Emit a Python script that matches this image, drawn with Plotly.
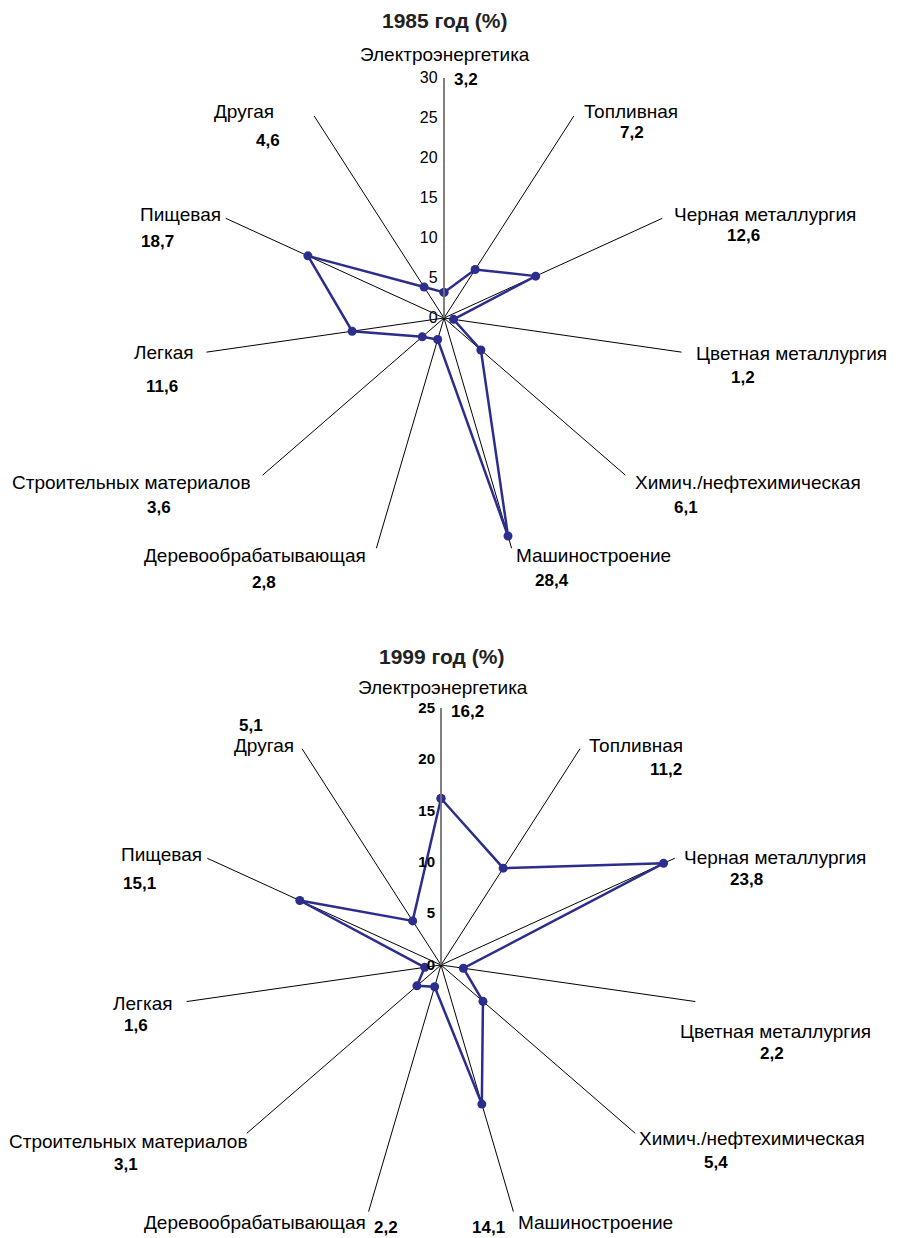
import plotly.graph_objects as go

categories = ["Электроэнергетика", "Топливная", "Черная металлургия", "Цветная металлургия",
              "Химич./нефтехимическая", "Машиностроение", "Деревообрабатывающая",
              "Строительных материалов", "Легкая", "Пищевая", "Другая"]
values_1985 = [3.2, 7.2, 12.6, 1.2, 6.1, 28.4, 2.8, 3.6, 11.6, 18.7, 4.6]
values_1999 = [16.2, 11.2, 23.8, 2.2, 5.4, 14.1, 2.2, 3.1, 1.6, 15.1, 5.1]
title_1985 = "1985 год (%)"
title_1999 = "1999 год (%)"

W, H = 907, 1238
OFF = 8  # page body margin
FONT = "Liberation Sans, Arial, sans-serif"
LINE = "#2B2E8C"

# label placement (page pixels): (name x, name y, value x, value y)
label_pos_1985 = [(445, 55, 466, 80), (631, 112, 632, 133), (765, 215, 743, 236),
                  (791, 354, 743, 377), (748, 482, 686, 508), (593, 556, 552, 580),
                  (255, 556, 264, 583), (131, 482, 159, 508), (164, 352, 162, 386),
                  (180, 215, 157, 241), (244, 112, 268, 140)]
label_pos_1999 = [(443, 688, 467, 711), (636, 745, 666, 769), (775, 857, 746, 879),
                  (775, 1031, 772, 1053), (752, 1138, 716, 1162), (595, 1222, 488, 1227),
                  (255, 1222, 386, 1227), (128, 1141, 126, 1164), (143, 1003, 136, 1025),
                  (161, 855, 139, 883), (264, 745, 251, 725)]

def fmt(v):
    return f"{v:.1f}".replace(".", ",")

def px(x, y):
    return (x - OFF) / W, 1 - (y - OFF) / H

def domain(cx, cy, r):
    cx -= OFF
    cy -= OFF
    return dict(x=[(cx - r) / W, (cx + r) / W], y=[1 - (cy + r) / H, 1 - (cy - r) / H])

fig = go.Figure()
for vals, sub in [(values_1985, "polar"), (values_1999, "polar2")]:
    fig.add_trace(go.Scatterpolar(
        r=vals + vals[:1], theta=categories + categories[:1], subplot=sub,
        mode="lines+markers", line=dict(color=LINE, width=2.5),
        marker=dict(color=LINE, size=9), showlegend=False, cliponaxis=False))

def polar_cfg(cx, cy, r, rmax, tickfont):
    return dict(
        domain=domain(cx, cy, r),
        bgcolor="white",
        angularaxis=dict(
            direction="clockwise", rotation=90, type="category",
            categoryarray=categories, showticklabels=False,
            showgrid=True, gridcolor="black", gridwidth=1,
            showline=False, ticks="",
        ),
        radialaxis=dict(
            range=[0, rmax], dtick=5, angle=90, tickangle=90, side="counterclockwise",
            showgrid=False, showline=True, linecolor="#808080", linewidth=1.5,
            ticks="", tickfont=tickfont,
        ),
    )

annotations = []
for title, (tx, ty) in [(title_1985, (444, 20)), (title_1999, (441, 656))]:
    x, y = px(tx, ty)
    annotations.append(dict(text=f"<b>{title}</b>", x=x, y=y, xref="paper", yref="paper",
                            xanchor="center", yanchor="middle", showarrow=False,
                            font=dict(family=FONT, size=21, color="#222222")))
for vals, positions in [(values_1985, label_pos_1985), (values_1999, label_pos_1999)]:
    for c, v, (nx, ny, vx, vy) in zip(categories, vals, positions):
        x, y = px(nx, ny)
        annotations.append(dict(text=c, x=x, y=y, xref="paper", yref="paper",
                                xanchor="center", yanchor="middle", showarrow=False,
                                font=dict(family=FONT, size=19, color="black")))
        x, y = px(vx, vy)
        annotations.append(dict(text=f"<b>{fmt(v)}</b>", x=x, y=y, xref="paper", yref="paper",
                                xanchor="center", yanchor="middle", showarrow=False,
                                font=dict(family=FONT, size=17, color="black")))

fig.update_layout(
    width=W, height=H, margin=dict(l=0, r=0, t=0, b=0),
    paper_bgcolor="white", plot_bgcolor="white",
    font=dict(family=FONT, color="black"),
    polar=polar_cfg(444, 318, 240, 30, dict(family=FONT, size=16, color="black")),
    polar2=polar_cfg(441, 965, 257, 25, dict(family=FONT, size=15, color="black", weight="bold")),
    annotations=annotations,
)

fig.write_html("out.html")
